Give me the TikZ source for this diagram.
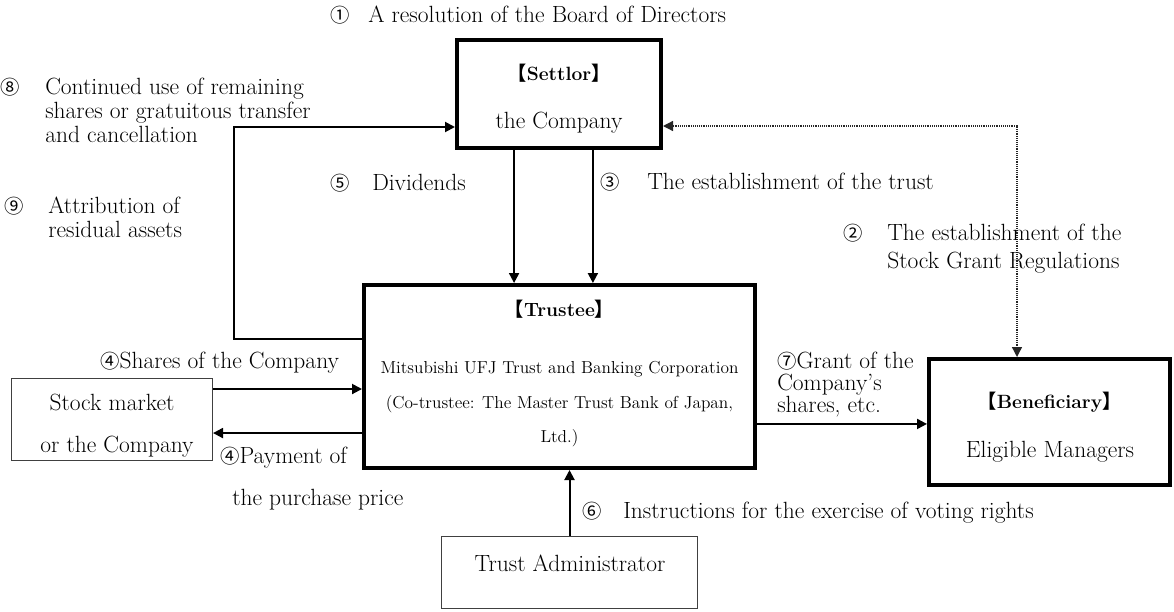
\documentclass[tikz,border=0pt]{standalone}
\usepackage{fontspec}
\newfontfamily\cjk{Noto Sans CJK JP}
\usetikzlibrary{arrows.meta,calc}
\newdimen\pxu \pxu=0.75pt
\newcommand{\fM}{\fontsize{17.6pt}{19pt}\selectfont}
\newcommand{\fS}{\fontsize{13pt}{14pt}\selectfont}
\newcommand{\fH}{\fontsize{14.4pt}{16pt}\selectfont\bfseries}
\newcommand{\fN}{\cjk\fontsize{14.5pt}{16pt}\selectfont}
\newcommand{\lb}{{\cjk 【}}
\newcommand{\rb}{{\cjk 】}}
\tikzset{
  bigbox/.style={draw, line width=3pt, inner sep=0pt},
  thinbox/.style={draw=black!75, line width=0.8pt, inner sep=0pt},
  arr/.style={line width=1.5pt, -{Triangle[length=7.5pt,width=7.5pt]}},
  dotarr/.style={line width=1pt, draw=black!85, dash pattern=on 0.7pt off 0.7pt,
    {Triangle[length=7.5pt,width=7.5pt]}-{Triangle[length=7.5pt,width=7.5pt]}},
  lbl/.style={anchor=base west, inner sep=0pt, font=\fM},
  ctr/.style={anchor=base, inner sep=0pt, font=\fM},
  hdr/.style={anchor=base, inner sep=0pt, font=\fH},
  sml/.style={anchor=base, inner sep=0pt, font=\fS},
  num/.style={anchor=base, inner sep=0pt, font=\fN},
}
\begin{document}
\begin{tikzpicture}[x=0.75pt, y=-0.75pt]
\useasboundingbox (0,0) rectangle (1174,611);

% boxes
\node[bigbox, minimum width=204\pxu, minimum height=108\pxu] (settlor) at (559,94) {};
\node[bigbox, minimum width=391\pxu, minimum height=183\pxu] (trustee) at (559.5,376.5) {};
\node[bigbox, minimum width=241\pxu, minimum height=126\pxu] (benef) at (1049.5,422) {};
\node[thinbox, minimum width=201\pxu, minimum height=82\pxu] (stock) at (112,419.5) {};
\node[thinbox, minimum width=256\pxu, minimum height=72\pxu] (admin) at (569.5,572.5) {};

% box texts
\node[hdr] (settlorH) at (559,80) {\lb Settlor\rb};
\node[ctr] (settlorT) at (559,128) {the Company};
\node[hdr] (trusteeH) at (559.5,316) {\lb Trustee\rb};
\node[sml] (trusteeA) at (559.5,373) {Mitsubishi UFJ Trust and Banking Corporation};
\node[sml] (trusteeB) at (559.5,408) {(Co-trustee: The Master Trust Bank of Japan,};
\node[sml] (trusteeC) at (559.5,442) {Ltd.)};
\node[hdr] (benefH) at (1049.5,408) {\lb Beneficiary\rb};
\node[ctr] (benefT) at (1050,457) {Eligible Managers};
\node[ctr] (stockA) at (112,410) {Stock market};
\node[ctr] (stockB) at (117,452) {or the Company};
\node[ctr] (adminT) at (570,571) {Trust Administrator};

% connectors
\coordinate (lp) at (234,339);
\coordinate (lq) at (234,127);
\draw[arr] (trustee.west |- lp) -- (lp) -- (lq) -- (settlor.west |- lq);
\coordinate (dc) at (1017,126);
\draw[dotarr] (settlor.east |- dc) -- (dc) -- (benef.north -| dc);
\coordinate (d1) at ($(settlor.south west)!0.284!(settlor.south east)$);
\coordinate (d2) at ($(settlor.south west)!0.663!(settlor.south east)$);
\draw[arr] (d1) -- (d1 |- trustee.north);
\draw[arr] (d2) -- (d2 |- trustee.north);
\coordinate (s1) at ($(stock.north east)!0.133!(stock.south east)$);
\coordinate (s2) at ($(stock.north east)!0.663!(stock.south east)$);
\draw[arr] (s1) -- (trustee.west |- s1);
\draw[arr] (trustee.west |- s2) -- (s2);
\coordinate (b1) at ($(benef.north west)!0.515!(benef.south west)$);
\draw[arr] (trustee.east |- b1) -- (b1);
\draw[arr] (admin.north) -- (trustee.south -| admin.north);

% labels
\node[num] (c1) at (340,22) {①};
\node[lbl] (t1) at (368,22) {A resolution of the Board of Directors};
\node[num] (c8) at (10,94) {⑧};
\node[lbl] (t8a) at (45,94) {Continued use of remaining};
\node[lbl] (t8b) at (45,118) {shares or gratuitous transfer};
\node[lbl] (t8c) at (45,142) {and cancellation};
\node[num] (c9) at (14,213) {⑨};
\node[lbl] (t9a) at (48,213) {Attribution of};
\node[lbl] (t9b) at (48,237) {residual assets};
\node[num] (c5) at (340,190) {⑤};
\node[lbl] (t5) at (372,190) {Dividends};
\node[num] (c3) at (610,189) {③};
\node[lbl] (t3) at (647,189) {The establishment of the trust};
\node[num] (c2) at (853,240) {②};
\node[lbl] (t2a) at (887,240) {The establishment of the};
\node[lbl] (t2b) at (887,268) {Stock Grant Regulations};
\node[lbl] (t4a) at (100,368) {{\fN ④}Shares of the Company};
\node[lbl] (t4b) at (220,463) {{\fN ④}Payment of};
\node[lbl] (t4c) at (232,505) {the purchase price};
\node[num] (c6) at (592,518) {⑥};
\node[lbl] (t6) at (623,518) {Instructions for the exercise of voting rights};
\node[lbl] (t7a) at (777,368) {{\fN ⑦}Grant of the};
\node[lbl] (t7b) at (777,390) {Company’s};
\node[lbl] (t7c) at (777,412) {shares, etc.};
\end{tikzpicture}
\end{document}
